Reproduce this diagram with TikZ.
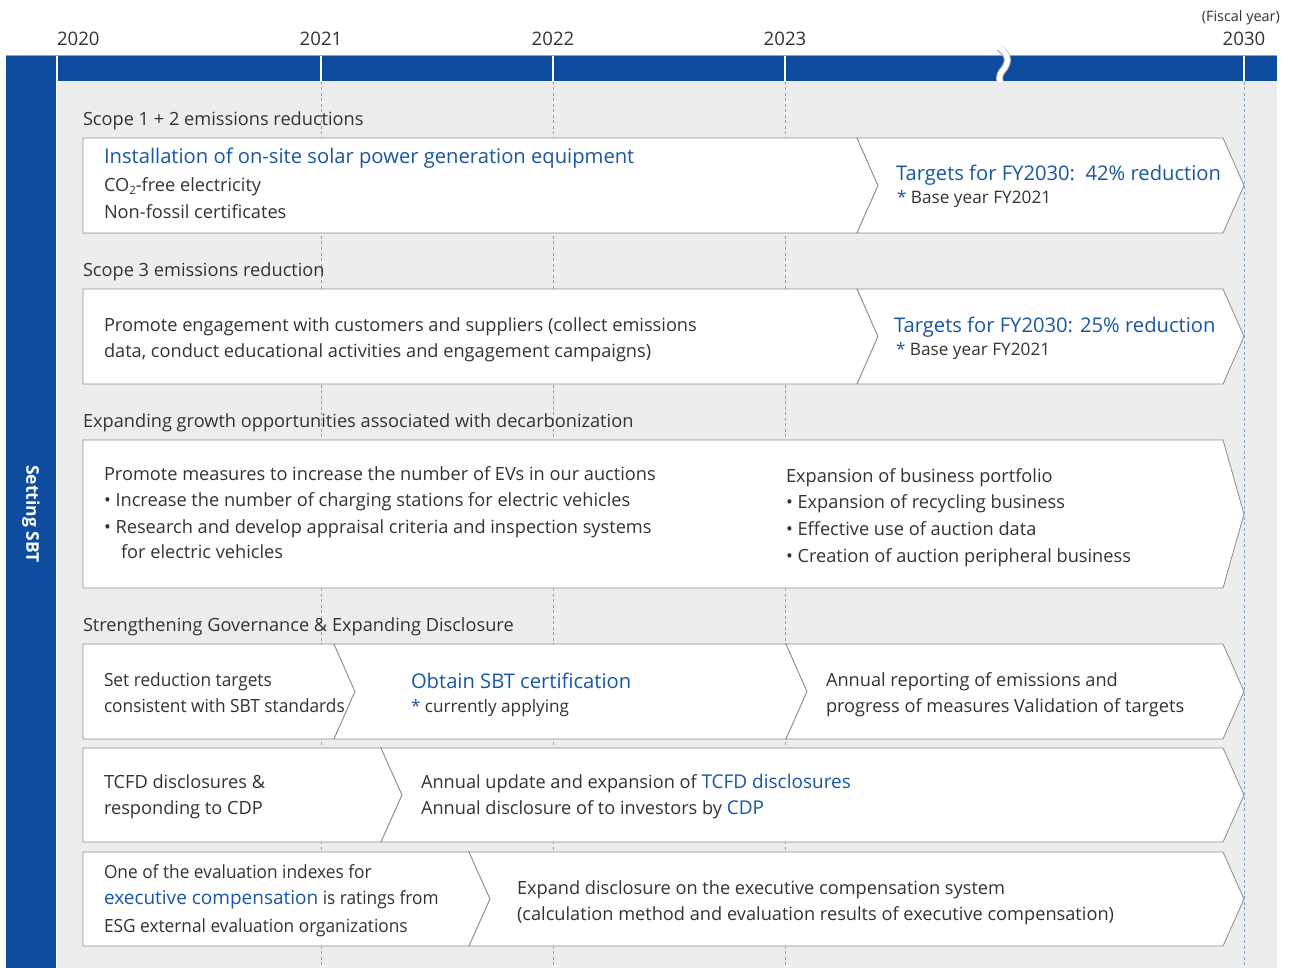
\documentclass[tikz,border=0pt]{standalone}
\usepackage{fontspec}
\setmainfont{Open Sans}
\newfontfamily\narrowfont[FakeStretch=0.95]{Open Sans}
\definecolor{sbt}{RGB}{13,76,159}
\definecolor{panelbg}{RGB}{236,237,239}
\definecolor{edge}{RGB}{140,140,140}
\definecolor{dashc}{RGB}{140,165,192}
\definecolor{ink}{RGB}{51,51,51}
\definecolor{hl}{RGB}{24,86,166}
\newcommand{\bodyfont}{\fontsize{18.2}{21}\selectfont}
\newcommand{\headfont}{\fontsize{20.2}{23}\selectfont}
\newcommand{\notefont}{\fontsize{17.2}{20}\selectfont}
\newcommand{\hlword}[1]{{\rmfamily\fontsize{19}{21}\selectfont\textcolor{hl}{#1}}}
\tikzset{
  lbl/.style={anchor=base west, inner sep=0pt, outer sep=0pt, text=ink, font=\bodyfont},
  tight/.style={lbl, font=\narrowfont\bodyfont},
  blu/.style={lbl, text=hl, font=\headfont},
  note/.style={lbl, font=\notefont},
  yr/.style={anchor=base, inner sep=0pt, text=ink, font=\fontsize{18.6}{21}\selectfont},
  panel/.style={draw=edge, fill=white, line width=0.8pt, line join=miter},
  grid/.style={draw=dashc, line width=0.8pt, dash pattern=on 3pt off 2.5pt},
  tick/.style={draw=white, line width=1.3pt},
}
\begin{document}
\begin{tikzpicture}[x=1pt,y=-1pt]
\useasboundingbox (0,0) rectangle (1289,968);
\fill[white] (0,0) rectangle (1289,968);

% background panel and year bars
\fill[panelbg] (57,81) rectangle (1277,968);
\fill[sbt] (6,56) rectangle (56,968);
\fill[sbt] (57,56) rectangle (1277,81);
\draw[gray!75, line width=1pt] (6,55.5) -- (1277,55.5);
\node[rotate=-90, text=white, inner sep=0pt, font=\fontsize{17.5}{20}\selectfont\bfseries] (side) at (31,514) {Setting SBT};

% year ticks and guide lines
\foreach \x in {321,553,785,1244}{
  \draw[tick] (\x,56.5) -- (\x,81);
  \draw[grid] (\x,82) -- (\x,968);
}
\draw[tick] (57.3,56.5) -- (57.3,81);

% axis break
\draw[gray!55, line width=7pt] (999,48) .. controls (1011,56) and (1008,64) .. (1003,70) .. controls (998,76) and (998,82) .. (1004,86);
\draw[white, line width=5pt] (999,47) .. controls (1011,56) and (1008,64) .. (1003,70) .. controls (998,76) and (998,82) .. (1004,87);
\fill[panelbg] (990,82) rectangle (1020,90);

% year labels
\node[lbl, font=\fontsize{18.6}{21}\selectfont] (y2020) at (57,46) {2020};
\node[yr] (y2021) at (321,46) {2021};
\node[yr] (y2022) at (553,46) {2022};
\node[yr] (y2023) at (785,46) {2023};
\node[yr] (y2030) at (1244,46) {2030};
\node[anchor=base east, inner sep=0pt, text=ink, font=\fontsize{14.4}{16}\selectfont] (fy) at (1280,21.5) {(Fiscal year)};

% ---- Scope 1 + 2 ----
\node[lbl] (s12) at (83,126) {Scope 1 + 2 emissions reductions};
\draw[panel] (83,138) -- (857,138) -- (878,185.5) -- (857,233) -- (83,233) -- cycle;
\draw[panel] (857,138) -- (1223,138) -- (1244,185.5) -- (1223,233) -- (857,233) -- (878,185.5) -- cycle;
\node[blu] (s12a) at (104,164) {Installation of on-site solar power generation equipment};
\node[lbl] (s12b) at (104,192) {CO{\raisebox{-0.12em}{\fontsize{11.5}{12}\selectfont 2}}-free electricity};
\node[lbl] (s12c) at (104,219) {Non-fossil certificates};
\node[blu] (s12t) at (896,181) {Targets for FY2030:\ \ 42\% reduction};
\node[note] (s12n) at (897,204) {\textcolor{hl}{*} Base year FY2021};

% ---- Scope 3 ----
\node[lbl] (s3) at (83,276) {Scope 3 emissions reduction};
\draw[panel] (83,289) -- (857,289) -- (878,336.5) -- (857,384) -- (83,384) -- cycle;
\draw[panel] (857,289) -- (1223,289) -- (1244,336.5) -- (1223,384) -- (857,384) -- (878,336.5) -- cycle;
\node[lbl] (s3a) at (104,331) {Promote engagement with customers and suppliers (collect emissions};
\node[lbl] (s3b) at (104,357) {data, conduct educational activities and engagement campaigns)};
\node[blu] (s3t) at (894,332) {Targets for FY2030: 25\% reduction};
\node[note] (s3n) at (896,355) {\textcolor{hl}{*} Base year FY2021};

% ---- Growth opportunities ----
\node[lbl] (gr) at (83,427) {Expanding growth opportunities associated with decarbonization};
\draw[panel] (83,440) -- (1223,440) -- (1244,514) -- (1223,588) -- (83,588) -- cycle;
\node[lbl] (gra) at (104,480) {Promote measures to increase the number of EVs in our auctions};
\node[lbl] (grb) at (104,506) {• Increase the number of charging stations for electric vehicles};
\node[lbl] (grc) at (104,533) {• Research and develop appraisal criteria and inspection systems};
\node[lbl] (grd) at (121,558) {for electric vehicles};
\node[lbl] (gre) at (786,482) {Expansion of business portfolio};
\node[lbl] (grf) at (786,508) {• Expansion of recycling business};
\node[lbl] (grg) at (786,535) {• Effective use of auction data};
\node[lbl] (grh) at (786,562) {• Creation of auction peripheral business};

% ---- Governance & disclosure ----
\node[lbl] (gv) at (83,631) {Strengthening Governance \& Expanding Disclosure};
\draw[panel] (83,644) -- (334,644) -- (355,691.5) -- (334,739) -- (83,739) -- cycle;
\draw[panel] (334,644) -- (786,644) -- (807,691.5) -- (786,739) -- (334,739) -- (355,691.5) -- cycle;
\draw[panel] (786,644) -- (1223,644) -- (1244,691.5) -- (1223,739) -- (786,739) -- (807,691.5) -- cycle;
\node[tight] (gva) at (104,686) {Set reduction targets};
\node[tight] (gvb) at (104,712) {consistent with SBT standards};
\node[blu] (gvc) at (411,688) {Obtain SBT certification};
\node[note] (gvd) at (411,712) {\textcolor{hl}{*} currently applying};
\node[lbl] (gve) at (826,686) {Annual reporting of emissions and};
\node[lbl] (gvf) at (826,712) {progress of measures Validation of targets};

\draw[panel] (83,748) -- (381,748) -- (402,795) -- (381,842) -- (83,842) -- cycle;
\draw[panel] (381,748) -- (1223,748) -- (1244,795) -- (1223,842) -- (381,842) -- (402,795) -- cycle;
\node[lbl] (tca) at (104,788) {TCFD disclosures \&};
\node[lbl] (tcb) at (104,814) {responding to CDP};
\node[lbl] (tcc) at (421,788) {Annual update and expansion of \hlword{TCFD disclosures}};
\node[lbl] (tcd) at (421,814) {Annual disclosure of to investors by \hlword{CDP}};

\draw[panel] (83,852) -- (469,852) -- (490,899) -- (469,946) -- (83,946) -- cycle;
\draw[panel] (469,852) -- (1223,852) -- (1244,899) -- (1223,946) -- (469,946) -- (490,899) -- cycle;
\node[tight] (exa) at (104,878) {One of the evaluation indexes for};
\node[tight] (exb) at (104,904) {\hlword{executive compensation} is ratings from};
\node[tight] (exc) at (104,932) {ESG external evaluation organizations};
\node[lbl] (exd) at (517,894) {Expand disclosure on the executive compensation system};
\node[lbl] (exe) at (517,920) {(calculation method and evaluation results of executive compensation)};
\end{tikzpicture}
\end{document}
